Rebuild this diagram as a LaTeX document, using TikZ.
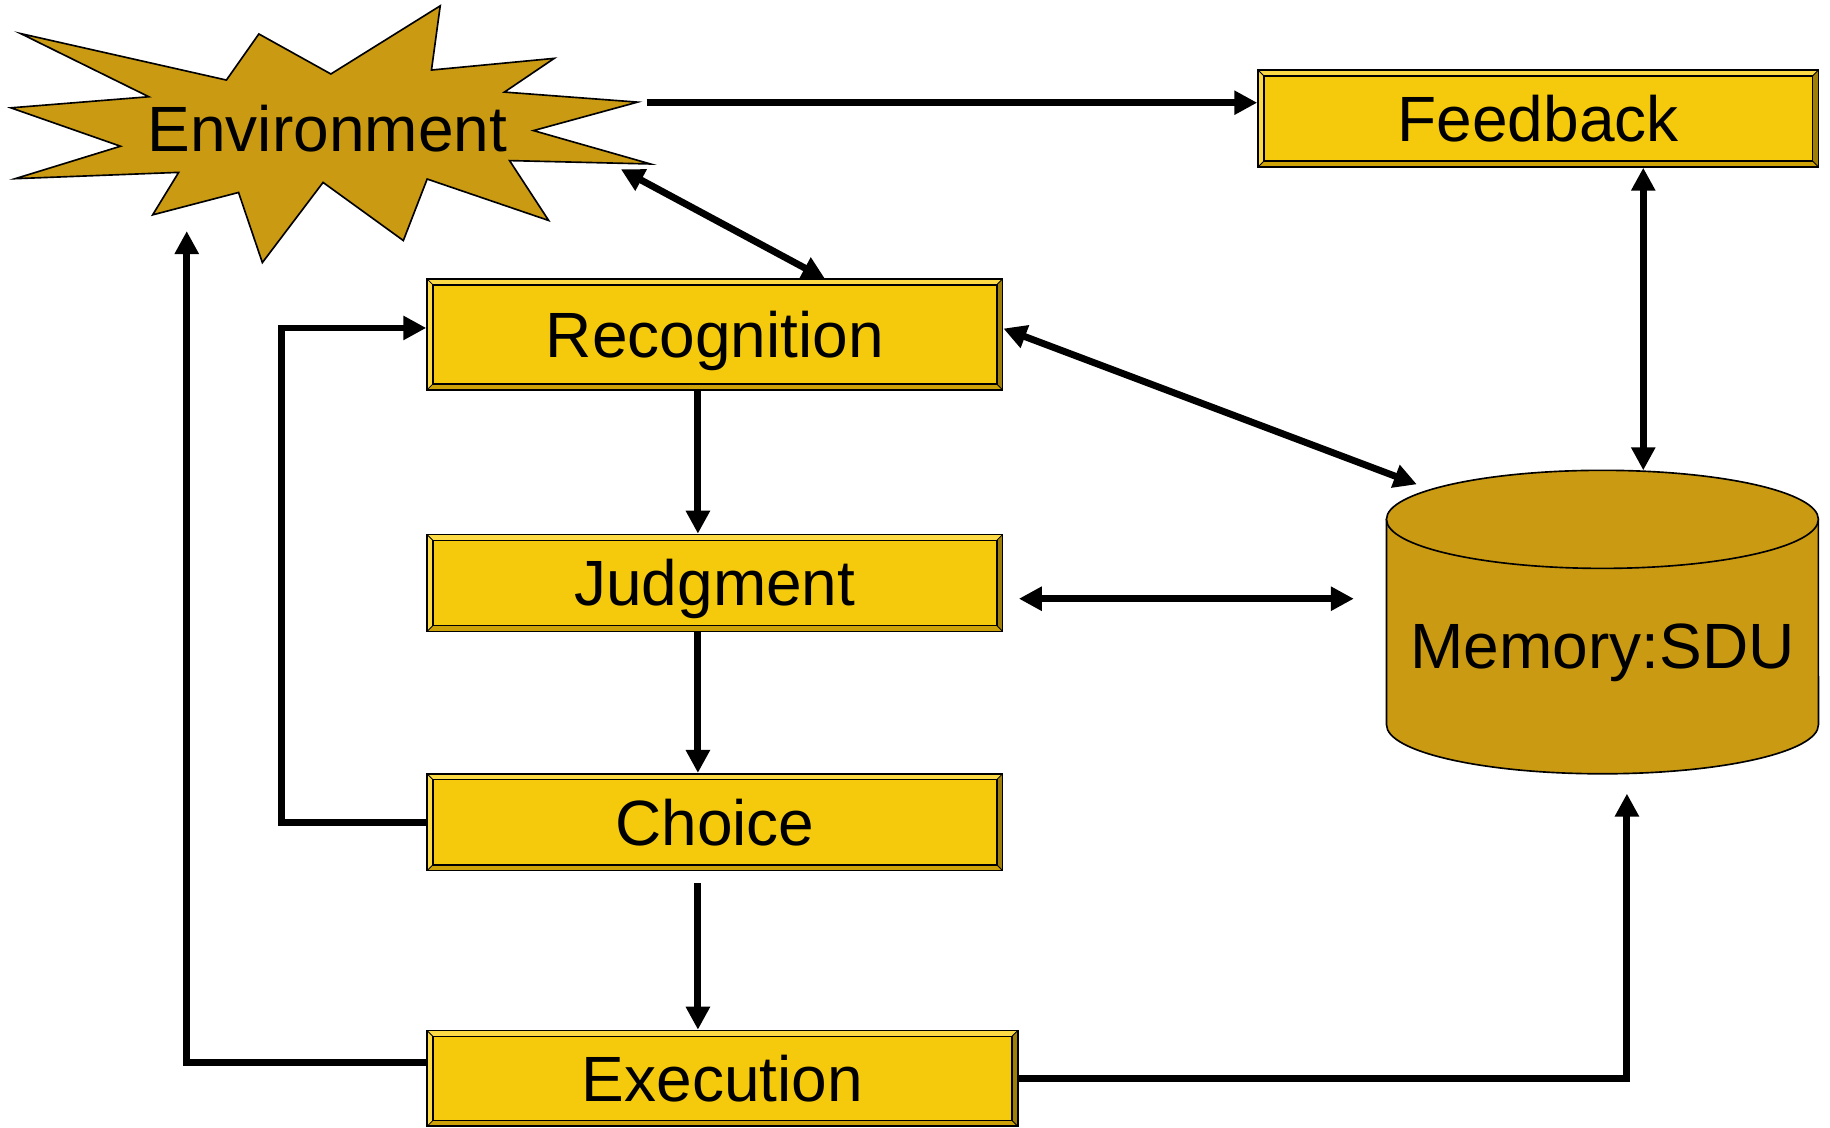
\documentclass[tikz,border=0pt]{standalone}
\usepackage{fontspec}
\setmainfont{Liberation Sans}
\usetikzlibrary{arrows.meta,calc}
\definecolor{boxfill}{HTML}{F5CA0C}
\definecolor{goldfill}{HTML}{CA9A12}
\definecolor{bevtop}{HTML}{FBDA45}
\definecolor{bevbot}{HTML}{CDA208}
\definecolor{bevright}{HTML}{9E7E04}
\tikzset{
  lbl/.style={font=\fontsize{39}{46}\selectfont, text height=28pt, text depth=0pt, inner sep=0pt},
  bevelbox/.style={lbl, draw=black, line width=1pt, fill=boxfill,
    path picture={
      \coordinate (pNW) at (path picture bounding box.north west);
      \coordinate (pNE) at (path picture bounding box.north east);
      \coordinate (pSW) at (path picture bounding box.south west);
      \coordinate (pSE) at (path picture bounding box.south east);
      \fill[bevtop] (pNW) -- (pNE) -- ($(pNE)+(-0.125cm,-0.125cm)$) -- ($(pNW)+(0.125cm,-0.125cm)$) -- cycle;
      \fill[bevtop] (pNW) -- (pSW) -- ($(pSW)+(0.125cm,0.125cm)$) -- ($(pNW)+(0.125cm,-0.125cm)$) -- cycle;
      \fill[bevbot] (pSW) -- (pSE) -- ($(pSE)+(-0.125cm,0.125cm)$) -- ($(pSW)+(0.125cm,0.125cm)$) -- cycle;
      \fill[bevright] (pNE) -- (pSE) -- ($(pSE)+(-0.125cm,0.125cm)$) -- ($(pNE)+(-0.125cm,-0.125cm)$) -- cycle;
      \draw[line width=0.5pt] (pNW) -- ($(pNW)+(0.125cm,-0.125cm)$) (pNE) -- ($(pNE)+(-0.125cm,-0.125cm)$)
        (pSW) -- ($(pSW)+(0.125cm,0.125cm)$) (pSE) -- ($(pSE)+(-0.125cm,0.125cm)$);
      \draw[line width=1pt] ($(pNW)+(0.125cm,-0.125cm)$) rectangle ($(pSE)+(-0.125cm,0.125cm)$);
    }},
  shapefill/.style={fill=goldfill, draw=black, line width=1pt, line join=miter},
  conn/.style={line width=4.2pt, -{Triangle[length=14pt,width=14pt]}},
  conn2/.style={line width=4.2pt, {Triangle[length=14pt,width=14pt]}-{Triangle[length=14pt,width=14pt]}}
}
\begin{document}
\begin{tikzpicture}[x=0.025cm,y=-0.025cm]
\useasboundingbox (0,0) rectangle (1568,966);

% Environment star
\draw[shapefill] (17.8,28.8) -- (194,68.6) -- (221.8,29.1) -- (283.5,63.4) -- (377.2,5)
  -- (369.7,60) -- (474.9,50) -- (432.2,78.9) -- (546.3,87.5) -- (457.1,111.9)
  -- (557.4,140.5) -- (436.6,137.6) -- (470.1,188.9) -- (366,153.4) -- (345.6,206.1)
  -- (276.8,156.3) -- (224.8,225) -- (204.4,164.9) -- (130.8,184.1) -- (153.1,147.7)
  -- (13,153.1) -- (103.3,125.3) -- (9.3,92.4) -- (127.5,82.9) -- cycle;
\node[lbl] (env) at (280.5,110) {Environment};

% Memory cylinder
\draw[shapefill] (1188,445) -- (1188,621) arc[start angle=180,end angle=360,x radius=4.625cm,y radius=1.05cm] -- (1558,445) -- cycle;
\draw[shapefill] (1373,445) ellipse [x radius=4.625cm, y radius=1.05cm];
\node[lbl] (mem) at (1373,553) {Memory:SDU};

% Boxes
\node[bevelbox, minimum width=12cm, minimum height=2.075cm] (fb) at (1318,101.5) {Feedback};
\node[bevelbox, minimum width=12.325cm, minimum height=2.375cm] (rec) at (612.5,286.5) {Recognition};
\node[bevelbox, minimum width=12.325cm, minimum height=2.075cm] (jud) at (612.5,499.5) {Judgment};
\node[bevelbox, minimum width=12.325cm, minimum height=2.075cm] (cho) at (612.5,704.5) {Choice};
\node[bevelbox, minimum width=12.65cm, minimum height=2.05cm] (exe) at (619,924) {Execution};

% connector end points
\coordinate (envR) at (554,88);
\coordinate (envB) at (532,145);
\coordinate (recT) at (707,239);
\coordinate (memT) at (1408,403);
\coordinate (memTL) at (1214,415);
\coordinate (judR) at (873,513);
\coordinate (memL) at (1160,513);
\coordinate (vx) at (598,0);
\coordinate (choB) at (598,757);
\coordinate (envL) at (160,198);
\coordinate (memB) at (1394,680);

% connectors
\draw[conn] (envR) -- (envR -| fb.west);
\draw[conn2] (envB) -- (recT);
\draw[conn2] (memT |- fb.south) -- (memT);
\draw[conn2] ($(rec.east)+(0,-5)$) -- (memTL);
\draw[conn2] (judR) -- (memL);
\draw[conn] (rec.south -| vx) -- (jud.north -| vx);
\draw[conn] (jud.south -| vx) -- (cho.north -| vx);
\draw[conn] (choB) -- (exe.north -| vx);
\draw[conn] (cho.west) -- ++(-124,0) |- ($(rec.west)+(0,-5.5)$);
\draw[conn] ($(exe.west)+(0,-14)$) -| (envL);
\draw[conn] (exe.east) -| (memB);
\end{tikzpicture}
\end{document}
